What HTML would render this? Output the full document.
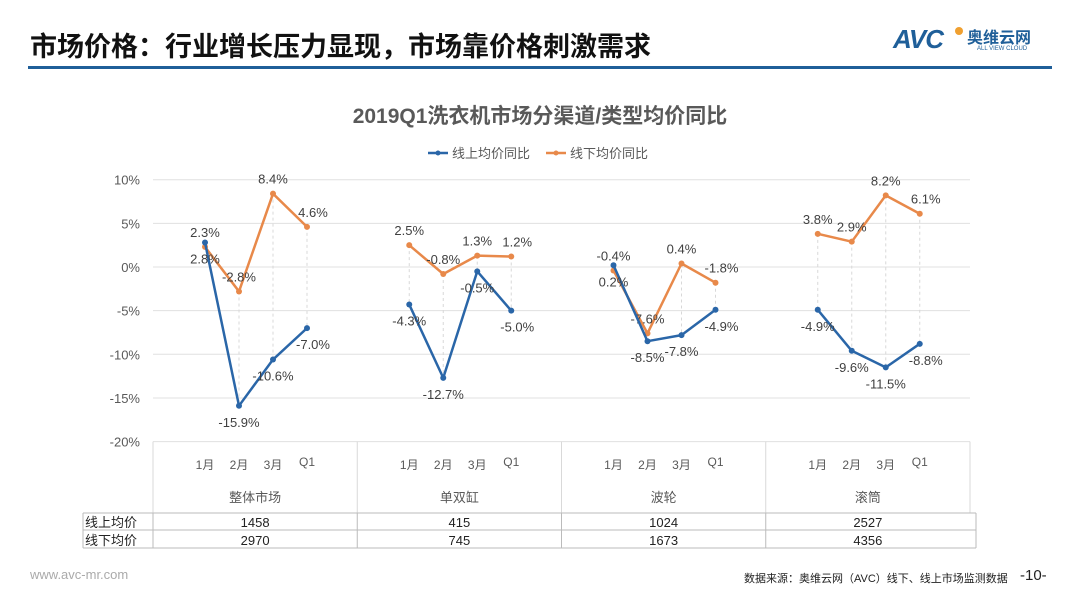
<!DOCTYPE html>
<html><head><meta charset="utf-8">
<style>
html,body{margin:0;padding:0;background:#fff;}
body{width:1080px;height:608px;position:relative;overflow:hidden;font-family:"Liberation Sans","Noto Sans CJK SC",sans-serif;}
.abs{position:absolute;}
</style></head>
<body>
<div class="abs" style="left:30px;top:25px;font-size:27px;font-weight:bold;color:#111;">市场价格：行业增长压力显现，市场靠价格刺激需求</div>
<div class="abs" style="left:28px;top:66px;width:1024px;height:3px;background:#1f5f99;"></div>
<div class="abs" style="left:893px;top:24px;width:160px;height:30px;">
  <span style="position:absolute;left:0;top:0;font-size:26px;font-weight:bold;font-style:italic;color:#1f5f99;letter-spacing:-1px;">AVC</span>
  <span style="position:absolute;left:62px;top:3px;width:8px;height:8px;border-radius:50%;background:#f0a030;"></span>
  <span style="position:absolute;left:74px;top:0px;font-size:16px;font-weight:bold;color:#1f5f99;">奥维云网</span>
  <span style="position:absolute;left:84px;top:22px;font-size:6px;color:#1f5f99;white-space:nowrap;">ALL VIEW CLOUD</span>
</div>
<svg id="chart" class="abs" style="left:0;top:0" width="1080" height="608"></svg>
<div class="abs" style="left:30px;top:567px;font-size:13px;color:#aaa;">www.avc-mr.com</div>
<div class="abs" style="left:744px;top:570px;font-size:11px;color:#222;">数据来源：奥维云网（AVC）线下、线上市场监测数据</div>
<div class="abs" style="left:1020px;top:567px;font-size:15px;color:#222;">-10-</div>
<script>
const groups=["整体市场","单双缸","波轮","滚筒"];
const months=["1月","2月","3月","Q1"];
const onlineYoY=[2.8,-15.9,-10.6,-7.0,-4.3,-12.7,-0.5,-5.0,0.2,-8.5,-7.8,-4.9,-4.9,-9.6,-11.5,-8.8];
const offlineYoY=[2.3,-2.8,8.4,4.6,2.5,-0.8,1.3,1.2,-0.4,-7.6,0.4,-1.8,3.8,2.9,8.2,6.1];
const onlinePrice=["1458","415","1024","2527"];
const offlinePrice=["2970","745","1673","4356"];
const yTicks=[10,5,0,-5,-10,-15,-20];
const NS="http://www.w3.org/2000/svg";
const svg=document.getElementById('chart');
const L=153,R=970,gw=(R-L)/4;
const y=v=>267-v*8.73;
const x=i=>L+Math.floor(i/4)*gw+52+(i%4)*34;
function mk(tag,attrs,txt){const e=document.createElementNS(NS,tag);for(const k in attrs)e.setAttribute(k,attrs[k]);if(txt!==undefined)e.textContent=txt;svg.appendChild(e);return e;}
const F='"Liberation Sans","Noto Sans CJK SC",sans-serif';
let t=mk('text',{x:540,y:123,'text-anchor':'middle','font-size':21,'font-weight':'bold',fill:'#595959','font-family':F},'2019Q1洗衣机市场分渠道/类型均价同比');


[[428,'#2a66a8','线上均价同比','legend-online'],[546,'#e8894a','线下均价同比','legend-offline']].forEach(l=>{
 const g=mk('g',{});
 
 
 const ln=document.createElementNS(NS,'line');ln.setAttribute('x1',l[0]);ln.setAttribute('x2',l[0]+20);ln.setAttribute('y1',153);ln.setAttribute('y2',153);ln.setAttribute('stroke',l[1]);ln.setAttribute('stroke-width',2.5);g.appendChild(ln);
 const c=document.createElementNS(NS,'circle');c.setAttribute('cx',l[0]+10);c.setAttribute('cy',153);c.setAttribute('r',2.5);c.setAttribute('fill',l[1]);g.appendChild(c);
 const tx=document.createElementNS(NS,'text');tx.setAttribute('x',l[0]+24);tx.setAttribute('y',158);tx.setAttribute('font-size',13);tx.setAttribute('fill','#595959');tx.setAttribute('font-family',F);tx.textContent=l[2];g.appendChild(tx);
});
yTicks.forEach(v=>{
 const gl=mk('line',{x1:L,x2:R,y1:y(v),y2:y(v),stroke:'#e0e0e0','stroke-width':1});
 
 
 const tl=mk('text',{x:140,y:y(v)+5,'text-anchor':'end','font-size':13,fill:'#595959','font-family':F},v+'%');
 
 
});
for(let g=0;g<=4;g++){
 const s=mk('line',{x1:L+g*gw,x2:L+g*gw,y1:y(-20),y2:513,stroke:'#d9d9d9','stroke-width':1});
 
 
}
groups.forEach((gname,g)=>{
 months.forEach((m,k)=>{
  const ml=mk('text',{x:x(g*4+k),y:k==3?466:469,'text-anchor':'middle','font-size':12,fill:'#595959','font-family':F},m);
  
  
 });
 const gl=mk('text',{x:L+g*gw+gw/2,y:502,'text-anchor':'middle','font-size':13,fill:'#595959','font-family':F},gname);
 
 
});
for(let i=0;i<16;i++){
 const d=mk('line',{x1:x(i),x2:x(i),y1:y(Math.max(onlineYoY[i],offlineYoY[i])),y2:y(Math.min(onlineYoY[i],offlineYoY[i])),stroke:'#d8d8d8','stroke-dasharray':'3,3','stroke-width':1});
 
 
}
function series(vals,color,name,below){
 for(let g=0;g<4;g++){
  const pts=[];for(let k=0;k<4;k++){const i=g*4+k;pts.push(x(i)+','+y(vals[i]));}
  const p=mk('polyline',{points:pts.join(' '),fill:'none',stroke:color,'stroke-width':2.5,'stroke-linejoin':'round'});
  
  
 }
 vals.forEach((v,i)=>{
  const c=mk('circle',{cx:x(i),cy:y(v),r:3,fill:color});
  
  
  const lb=mk('text',{x:x(i)+(i%4==3?6:0),y:below?y(v)+21:y(v)-10,'text-anchor':'middle','font-size':13,fill:'#404040','font-family':F},v.toFixed(1)+'%');
  
  
 });
}
series(offlineYoY,'#e8894a','offline',false);
series(onlineYoY,'#2a66a8','online',true);
const TL=83,TR=976,r1=513,r2=530,r3=548;
[[r1,'#bbb'],[r2,'#bbb'],[r3,'#bbb']].forEach(r=>{const l=mk('line',{x1:TL,x2:TR,y1:r[0],y2:r[0],stroke:r[1],'stroke-width':1});});
[TL,L,L+gw,L+2*gw,L+3*gw,TR].forEach(xx=>{const l=mk('line',{x1:xx,x2:xx,y1:r1,y2:r3,stroke:'#bbb','stroke-width':1});});
[['线上均价',onlinePrice,r2-3],['线下均价',offlinePrice,r3-3]].forEach(row=>{
 const h=mk('text',{x:TL+2,y:row[2],'font-size':13,fill:'#222','font-family':F},row[0]);
 
 
 row[1].forEach((v,g)=>{
  const c=mk('text',{x:L+g*gw+gw/2,y:row[2],'text-anchor':'middle','font-size':13,fill:'#222','font-family':F},v);
  
  
 });
});
</script>
</body></html>
